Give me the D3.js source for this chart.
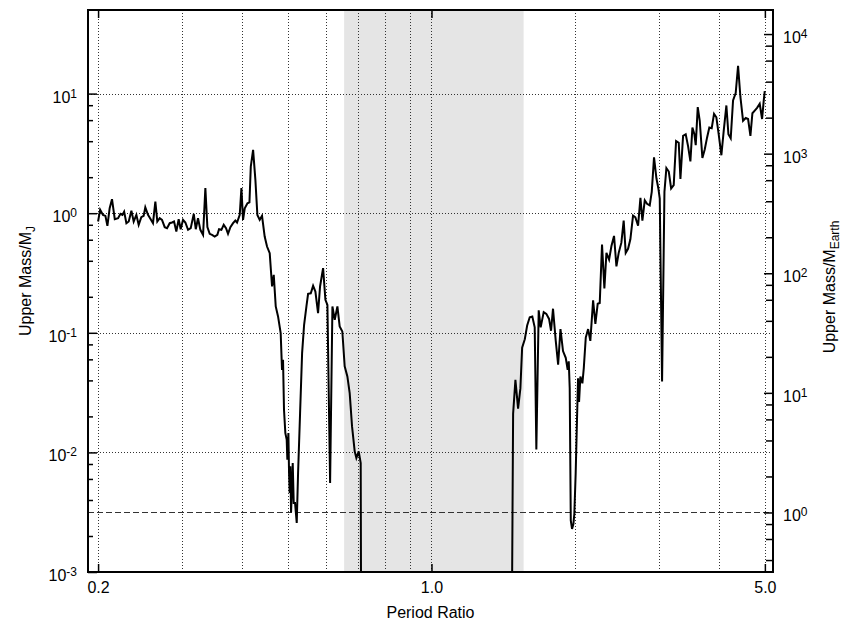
<!DOCTYPE html>
<html>
<head>
<meta charset="utf-8">
<script src="https://cdn.jsdelivr.net/npm/d3@7"></script>
<style>
body { margin: 0; background: #fff; }
svg { display: block; font-family: "Liberation Sans", Arial, Helvetica, sans-serif; }
</style>
</head>
<body>
<svg id="chart" width="842" height="623"></svg>
<script>
"use strict";
// [period ratio, upper mass in M_J]
const innerBranch = [[0.200,0.852],[0.202,1.07],[0.2048,0.968],[0.2072,0.95],[0.2092,0.784],[0.2115,1.10],[0.2139,1.31],[0.2168,0.891],[0.2203,0.908],[0.2228,0.987],[0.2249,0.968],[0.2268,1.03],[0.2293,0.825],[0.2319,0.852],[0.2349,1.05],[0.2375,0.852],[0.2406,0.968],[0.2433,0.799],[0.2464,0.926],[0.2492,0.95],[0.2512,1.12],[0.2545,0.968],[0.2578,0.891],[0.2607,0.825],[0.2637,1.25],[0.2662,0.852],[0.2693,0.908],[0.2723,0.88],[0.2759,0.764],[0.279,0.75],[0.2826,0.825],[0.2858,0.836],[0.2886,0.852],[0.2918,0.703],[0.2951,0.891],[0.298,0.735],[0.3014,0.88],[0.3048,0.836],[0.3088,0.726],[0.3128,0.75],[0.3174,0.987],[0.3205,0.735],[0.324,0.908],[0.3277,0.726],[0.332,0.659],[0.3357,1.62],[0.339,0.764],[0.3428,0.672],[0.3467,0.659],[0.3512,0.638],[0.3557,0.659],[0.3586,0.735],[0.3627,0.726],[0.3668,0.799],[0.3709,0.75],[0.3745,0.672],[0.3788,0.764],[0.3837,0.825],[0.388,0.868],[0.3912,0.836],[0.3963,0.968],[0.3995,1.62],[0.4027,0.88],[0.406,1.10],[0.4113,1.21],[0.4153,1.23],[0.418,2.45],[0.4227,3.38],[0.4274,1.90],[0.4315,0.968],[0.4364,0.88],[0.4413,0.95],[0.447,0.638],[0.4521,0.526],[0.458,0.463],[0.4632,0.244],[0.467,0.305],[0.4715,0.166],[0.4768,0.137],[0.4829,0.0993],[0.486,0.049],[0.4884,0.0595],[0.4907,0.0227],[0.4939,0.0145],[0.4971,0.0128],[0.4987,0.0087],[0.5012,0.0145],[0.5028,0.00672],[0.5044,0.00457],[0.506,0.00764],[0.5077,0.00315],[0.5101,0.0052],[0.5118,0.00814],[0.5143,0.00377],[0.5176,0.00377],[0.5218,0.00257],[0.5252,0.00672],[0.5303,0.0213],[0.5355,0.0676],[0.5407,0.1167],[0.5468,0.166],[0.5512,0.212],[0.5584,0.214],[0.5647,0.247],[0.571,0.221],[0.5784,0.146],[0.584,0.244],[0.5926,0.347],[0.5993,0.189],[0.6051,0.171],[0.613,0.00554],[0.6199,0.166],[0.6269,0.1285],[0.635,0.166],[0.642,0.113],[0.6503,0.1026],[0.6577,0.0524],[0.6663,0.0432],[0.6738,0.0313],[0.6815,0.0165],[0.6903,0.0102],[0.6959,0.00897],[0.7038,0.0102],[0.7106,0.00814],[0.7125,0.0001]];
const outerBranch = [[1.471,0.0001],[1.483,0.021],[1.4996,0.0404],[1.519,0.0232],[1.536,0.0343],[1.549,0.075],[1.569,0.0883],[1.587,0.115],[1.607,0.135],[1.627,0.1368],[1.646,0.111],[1.659,0.0106],[1.678,0.154],[1.694,0.111],[1.719,0.149],[1.741,0.144],[1.764,0.1306],[1.781,0.104],[1.798,0.159],[1.822,0.0855],[1.843,0.0542],[1.864,0.1074],[1.887,0.0703],[1.912,0.0617],[1.93,0.0491],[1.94,0.0578],[1.949,0.0343],[1.959,0.0027],[1.971,0.00229],[1.984,0.00252],[1.993,0.00307],[2.006,0.00672],[2.019,0.0191],[2.029,0.0417],[2.039,0.0264],[2.052,0.0431],[2.072,0.0378],[2.086,0.0507],[2.106,0.0912],[2.13,0.1074],[2.153,0.0855],[2.182,0.187],[2.206,0.1185],[2.231,0.175],[2.253,0.1776],[2.278,0.548],[2.304,0.235],[2.327,0.466],[2.357,0.409],[2.384,0.531],[2.414,0.646],[2.442,0.359],[2.469,0.466],[2.501,0.567],[2.529,0.867],[2.554,0.466],[2.583,0.504],[2.612,0.605],[2.646,0.955],[2.676,0.925],[2.711,0.785],[2.742,1.341],[2.768,0.867],[2.80,1.281],[2.831,1.20],[2.868,1.162],[2.896,1.508],[2.928,2.93],[2.962,1.958],[2.99,1.61],[3.01,1.324],[3.044,0.0391],[3.079,1.508],[3.108,2.38],[3.144,2.23],[3.18,1.61],[3.22,1.718],[3.257,4.01],[3.299,3.88],[3.326,1.93],[3.369,4.43],[3.412,4.57],[3.451,3.64],[3.49,2.71],[3.524,5.21],[3.558,4.57],[3.581,3.71],[3.616,7.71],[3.651,5.93],[3.698,2.90],[3.74,3.41],[3.782,4.28],[3.824,5.21],[3.868,5.14],[3.912,6.76],[3.956,6.34],[4.001,4.57],[4.053,3.05],[4.099,4.88],[4.152,7.96],[4.193,4.57],[4.24,4.23],[4.288,8.78],[4.343,10.1],[4.393,17.1],[4.443,9.37],[4.50,5.93],[4.559,6.25],[4.611,6.13],[4.663,4.43],[4.708,6.85],[4.761,7.21],[4.815,7.60],[4.877,8.22],[4.933,6.13],[4.973,8.78],[4.997,10.5]];

const shadedBand = [0.656, 1.56];          // period ratio range
const earthMassesPerJupiter = 317.8;
const earthLine = 1;                       // 1 M_Earth, dashed
const xLabelTicks = [0.2, 1.0, 5.0];
const xGridTicks = [0.2, 0.3, 0.4, 0.5, 0.6, 0.7, 0.8, 0.9, 1, 2, 3, 4, 5];
const leftDecades = [1e-3, 1e-2, 1e-1, 1e0, 1e1];
const leftGrid = [1e-2, 1e-1, 1e0, 1e1];
const rightDecades = [1e0, 1e1, 1e2, 1e3, 1e4];
const minorSteps = [2, 4, 6, 8];

const m = {left: 88, top: 10, right: 773, bottom: 572};
const svg = d3.select("#chart");

const x = d3.scaleLog().domain([0.1905, 5.2]).range([m.left, m.right]);
const y = d3.scaleLog().domain([1e-3, 50]).range([m.bottom, m.top]);
const yE = d3.scaleLog()
  .domain(y.domain().map(v => v * earthMassesPerJupiter))
  .range([m.bottom, m.top]);

function minors(decades, lo, hi) {
  const out = [];
  decades.forEach(d => minorSteps.forEach(s => {
    const v = d * s;
    if (v > lo && v < hi) out.push(v);
  }));
  return out;
}

svg.append("clipPath").attr("id", "plotclip")
  .append("rect")
  .attr("x", m.left).attr("y", m.top)
  .attr("width", m.right - m.left).attr("height", m.bottom - m.top);

// shaded band
svg.append("rect")
  .attr("x", x(shadedBand[0]))
  .attr("y", m.top)
  .attr("width", x(shadedBand[1]) - x(shadedBand[0]))
  .attr("height", m.bottom - m.top)
  .attr("fill", "#e5e5e5");

// dotted grid
const grid = svg.append("g")
  .attr("stroke", "#333")
  .attr("stroke-width", 1)
  .attr("stroke-dasharray", "1,2");
grid.selectAll(".gx").data(xGridTicks).enter().append("line")
  .attr("x1", d => Math.round(x(d)) + 0.5).attr("x2", d => Math.round(x(d)) + 0.5)
  .attr("y1", m.top).attr("y2", m.bottom);
grid.selectAll(".gy").data(leftGrid).enter().append("line")
  .attr("y1", d => Math.round(y(d)) + 0.5).attr("y2", d => Math.round(y(d)) + 0.5)
  .attr("x1", m.left).attr("x2", m.right);

// 1 Earth mass
svg.append("line")
  .attr("x1", m.left).attr("x2", m.right)
  .attr("y1", Math.round(yE(earthLine)) + 0.5).attr("y2", Math.round(yE(earthLine)) + 0.5)
  .attr("stroke", "#333").attr("stroke-width", 1).attr("stroke-dasharray", "6,3");

// curve
const line = d3.line().x(d => x(d[0])).y(d => y(d[1]));
const curves = svg.append("g").attr("clip-path", "url(#plotclip)");
[innerBranch, outerBranch].forEach(br => {
  curves.append("path")
    .datum(br)
    .attr("d", line)
    .attr("fill", "none")
    .attr("stroke", "#000")
    .attr("stroke-width", 2);
});

// axes
function styleAxis(g) {
  g.select(".domain").remove();
  g.selectAll(".tick line").attr("stroke", "#000").attr("stroke-width", 1.5);
  g.selectAll("text").attr("fill", "#000").attr("font-size", 16)
    .attr("font-family", "\"Liberation Sans\", Arial, sans-serif");
}
function powerLabel(g) {
  g.selectAll(".tick text").each(function(d) {
    const t = d3.select(this);
    const e = Math.round(Math.log10(d));
    t.text("10").attr("dy", "0.53em");
    t.append("tspan").attr("dy", -5).attr("font-size", 12).text(e);
  });
}

svg.append("g")
  .attr("transform", `translate(0,${m.bottom})`)
  .call(d3.axisBottom(x).tickValues(xLabelTicks).tickFormat(d3.format(".1f"))
    .tickSizeInner(-8).tickSizeOuter(0).tickPadding(10))
  .call(styleAxis);
svg.append("g")
  .attr("transform", `translate(0,${m.top})`)
  .call(d3.axisTop(x).tickValues(xLabelTicks).tickFormat("")
    .tickSizeInner(-8).tickSizeOuter(0))
  .call(styleAxis);

svg.append("g")
  .attr("transform", `translate(${m.left},0)`)
  .call(d3.axisLeft(y).tickValues(leftDecades).tickSizeInner(-9).tickSizeOuter(0).tickPadding(11))
  .call(styleAxis).call(powerLabel);
svg.append("g")
  .attr("transform", `translate(${m.left},0)`)
  .call(d3.axisLeft(y).tickValues(minors(leftDecades.slice(0, 4), 1e-3, 10)).tickFormat("")
    .tickSizeInner(-5).tickSizeOuter(0))
  .call(styleAxis);

svg.append("g")
  .attr("transform", `translate(${m.right},0)`)
  .call(d3.axisRight(yE).tickValues(rightDecades).tickSizeInner(-9).tickSizeOuter(0).tickPadding(10))
  .call(styleAxis).call(powerLabel);
svg.append("g")
  .attr("transform", `translate(${m.right},0)`)
  .call(d3.axisRight(yE).tickValues(minors([1e-1].concat(rightDecades), yE.domain()[0], yE.domain()[1])).tickFormat("")
    .tickSizeInner(-7).tickSizeOuter(0))
  .call(styleAxis);

// frame
svg.append("rect")
  .attr("x", m.left).attr("y", m.top)
  .attr("width", m.right - m.left).attr("height", m.bottom - m.top)
  .attr("fill", "none").attr("stroke", "#000").attr("stroke-width", 2);

// titles
svg.append("text")
  .attr("x", (m.left + m.right) / 2).attr("y", 618)
  .attr("text-anchor", "middle").attr("font-size", 16)
  .text("Period Ratio");

const lt = svg.append("text")
  .attr("transform", "translate(31,281) rotate(-90)")
  .attr("text-anchor", "middle").attr("font-size", 16)
  .text("Upper Mass/M");
lt.append("tspan").attr("dy", 4).attr("font-size", 12).text("J");

const rt = svg.append("text")
  .attr("transform", "translate(835,287) rotate(-90)")
  .attr("text-anchor", "middle").attr("font-size", 16)
  .text("Upper Mass/M");
rt.append("tspan").attr("dy", 4).attr("font-size", 12).text("Earth");
</script>
</body>
</html>
